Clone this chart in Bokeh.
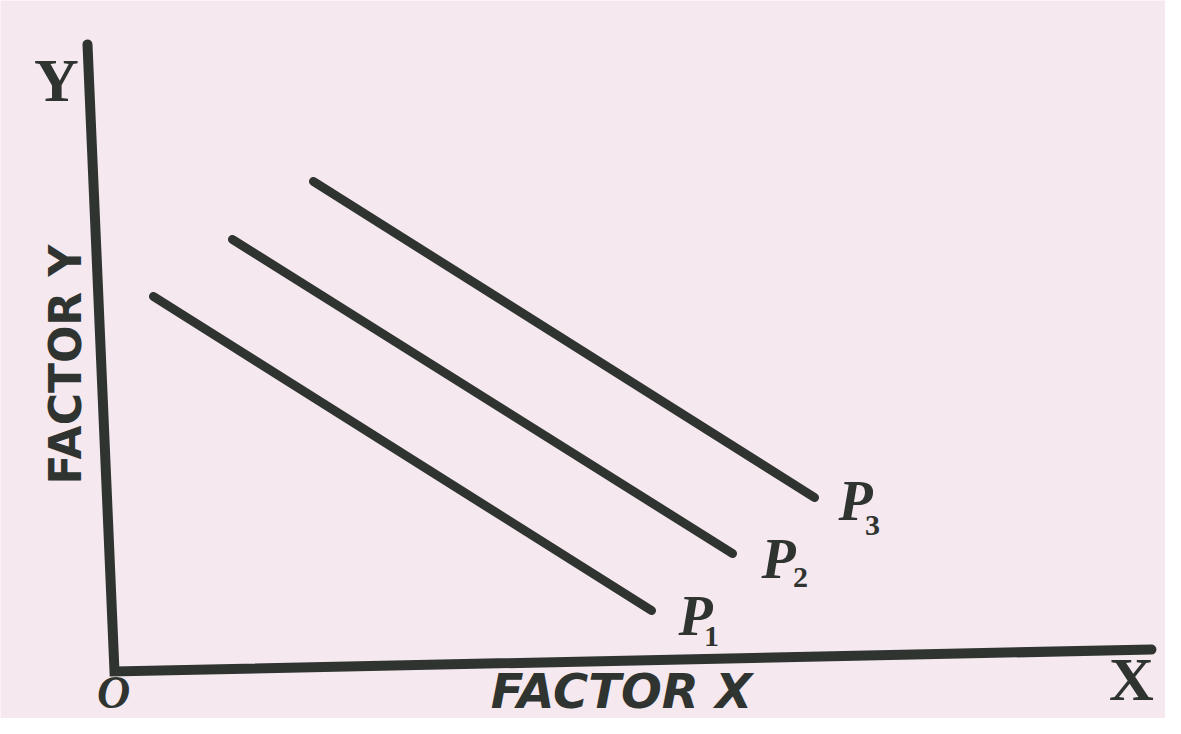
from bokeh.plotting import figure
from bokeh.models import Range1d
from bokeh.core.properties import value
from bokeh.embed import file_html
from bokeh.resources import INLINE

# ---- data (diagram units, origin O at 0,0) ----
# axes drawn as one polyline: top of OY -> O -> end of OX
axis_xs = [-27, 0, 1037]
axis_ys = [627, 0, 22]

# three parallel isoquants P1, P2, P3
iso_labels = ["P", "P", "P"]
iso_subs = ["1", "2", "3"]
iso_x_start = [39, 118, 199]
iso_y_start = [375, 432, 490]
iso_x_end = [537, 618, 700]
iso_y_end = [61, 118, 174]

# label anchors
p_label_x = [581, 664, 741]
p_label_y = [56, 113, 171]
sub_label_x = [597, 686, 758]
sub_label_y = [35, 94, 146]

axis_letters = ["Y", "X"]
axis_letter_x = [-58, 1017]
axis_letter_y = [592, -7]

origin_label = ["O"]
origin_x = [-1]
origin_y = [-46]

factor_x_label = ["FACTOR X"]
factor_x_pos = ([507], [-19])
factor_y_label = ["FACTOR Y"]
factor_y_pos = ([-49], [307])

INK = "#2f3431"
PAPER = "#f5e8ef"

p = figure(width=1165, height=718, output_backend="svg", toolbar_location=None,
           x_range=Range1d(-114, 1051), y_range=Range1d(-47, 671),
           min_border=0, background_fill_color=PAPER, border_fill_color=PAPER)
p.axis.visible = False
p.grid.visible = False
p.outline_line_color = None

p.line(axis_xs, axis_ys, line_color=INK, line_width=10, line_cap="round", line_join="miter")

p.segment(x0=iso_x_start, y0=iso_y_start, x1=iso_x_end, y1=iso_y_end,
          line_color=INK, line_width=9, line_cap="round")

p.text(x=p_label_x, y=p_label_y, text=iso_labels, text_font=value("Liberation Serif"),
       text_font_style="bold italic", text_font_size="56px", text_color=INK,
       text_align="center", text_baseline="middle")
p.text(x=sub_label_x, y=sub_label_y, text=iso_subs, text_font=value("Liberation Serif"),
       text_font_style="bold", text_font_size="30px", text_color=INK,
       text_align="center", text_baseline="middle")

p.text(x=axis_letter_x, y=axis_letter_y, text=axis_letters, text_font=value("Liberation Serif"),
       text_font_style="bold", text_font_size="62px", text_color=INK,
       text_align="center", text_baseline="middle")

p.text(x=origin_x, y=origin_y, text=origin_label, text_font=value("Liberation Serif"),
       text_font_style="bold italic", text_font_size="46px", text_color=INK,
       text_align="center", text_baseline="bottom")

p.text(x=factor_x_pos[0], y=factor_x_pos[1], text=factor_x_label,
       text_font=value("DejaVu Sans"),
       text_font_style="bold italic", text_font_size="48px", text_color=INK,
       text_align="center", text_baseline="middle")

p.text(x=factor_y_pos[0], y=factor_y_pos[1], text=factor_y_label,
       text_font=value("DejaVu Sans"), text_font_style="bold",
       text_font_size="44px", text_color=INK, angle=1.5708,
       text_align="center", text_baseline="middle")

open("out.html", "w").write(file_html(p, INLINE))
